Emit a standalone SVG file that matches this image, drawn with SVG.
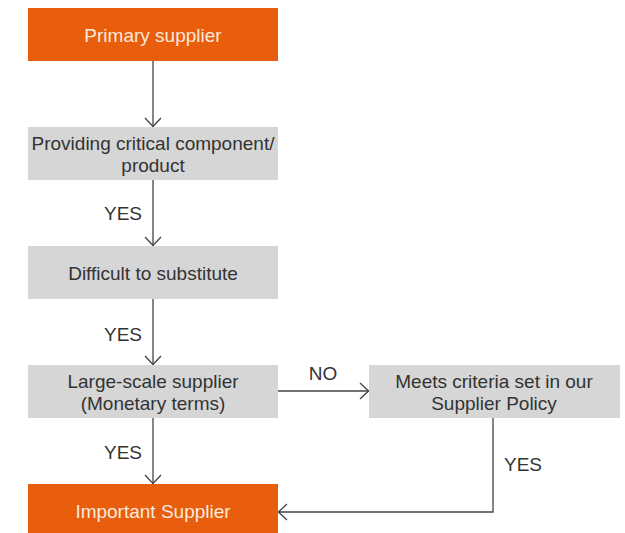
<svg xmlns="http://www.w3.org/2000/svg" width="625" height="533" viewBox="0 0 625 533">
<defs>
<style>
.orange{fill:#E85E0C}
.gray{fill:#D6D6D6}
text{font-family:"Liberation Sans",Arial,sans-serif;font-size:19px;text-anchor:middle}
.dark{fill:#333333}
.light{fill:#FBE9DD}
.conn{stroke:#444444;stroke-width:1.3;fill:none}
</style>
<marker id="arr" viewBox="0 0 10 20" refX="10" refY="10" markerWidth="10" markerHeight="20" markerUnits="userSpaceOnUse" orient="auto">
<path d="M1,2 L9.5,10 L1,18" fill="none" stroke="#444444" stroke-width="1.3"/>
</marker>
</defs>
<rect width="625" height="533" fill="#FFFFFF"/>
<g id="connectors">
<line class="conn" x1="153" y1="61" x2="153" y2="127" marker-end="url(#arr)"/>
<line class="conn" x1="153" y1="180" x2="153" y2="246" marker-end="url(#arr)"/>
<line class="conn" x1="153" y1="299" x2="153" y2="365" marker-end="url(#arr)"/>
<line class="conn" x1="153" y1="418" x2="153" y2="484" marker-end="url(#arr)"/>
<line class="conn" x1="277" y1="391" x2="369" y2="391" marker-end="url(#arr)"/>
<polyline class="conn" points="493,418 493,512 278,512" marker-end="url(#arr)"/>
<text class="dark" x="123" y="220">YES</text>
<text class="dark" x="123" y="341">YES</text>
<text class="dark" x="123" y="459">YES</text>
<text class="dark" x="323" y="380">NO</text>
<text class="dark" x="523" y="471">YES</text>
</g>
<g id="primary">
<rect class="orange" x="28" y="8" width="250" height="53"/>
<text class="light" x="153" y="41.5">Primary supplier</text>
</g>
<g id="critical">
<rect class="gray" x="28" y="127" width="250" height="53"/>
<text class="dark" x="153" y="149.5">Providing critical component/</text>
<text class="dark" x="153" y="172">product</text>
</g>
<g id="substitute">
<rect class="gray" x="28" y="246" width="250" height="53"/>
<text class="dark" x="153" y="280">Difficult to substitute</text>
</g>
<g id="largescale">
<rect class="gray" x="28" y="365" width="250" height="53"/>
<text class="dark" x="153" y="387.5">Large-scale supplier</text>
<text class="dark" x="153" y="410">(Monetary terms)</text>
</g>
<g id="criteria">
<rect class="gray" x="369" y="365" width="251" height="53"/>
<text class="dark" x="494" y="387.5">Meets criteria set in our</text>
<text class="dark" x="494" y="410">Supplier Policy</text>
</g>
<g id="important">
<rect class="orange" x="28" y="484" width="250" height="53"/>
<text class="light" x="153" y="518">Important Supplier</text>
</g>
</svg>
